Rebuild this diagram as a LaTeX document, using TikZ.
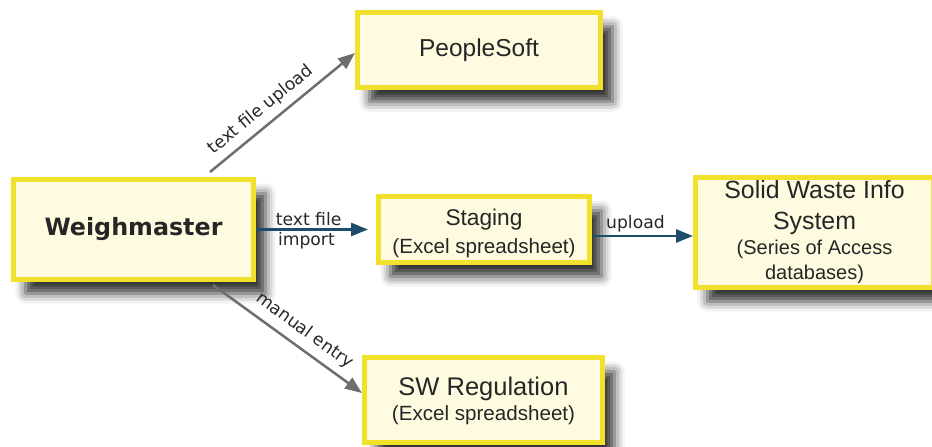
\documentclass[tikz,border=0pt]{standalone}
\usepackage{fontspec}
\setmainfont{Liberation Sans}
\newfontfamily\lblfont{DejaVu Sans}
\usetikzlibrary{arrows.meta,shadows.blur,calc}
\definecolor{boxfill}{HTML}{FFFBE0}
\definecolor{boxedge}{HTML}{F2E12C}
\definecolor{txt}{HTML}{262626}
\definecolor{flowblue}{HTML}{1E4D6B}
\definecolor{flowgray}{HTML}{6E6E6E}
\begin{document}
\begin{tikzpicture}[x=1pt,y=1pt,
  sysbox/.style={draw=boxedge, line width=5pt, fill=boxfill, text=txt,
    align=center, inner sep=0pt,
    blur shadow={shadow xshift=12pt, shadow yshift=-14pt,
      shadow blur radius=10pt, shadow opacity=80}},
  grayflow/.style={draw=flowgray, line width=2.5pt,
    -{Triangle[length=17pt,width=13pt]}},
  blueflow/.style={draw=flowblue, line width=2.7pt,
    -{Triangle[length=17pt,width=13pt]}},
  flowlabel/.style={font=\lblfont\fontsize{17.2}{20}\selectfont, text=txt, inner sep=2pt},
]
\useasboundingbox (0,0) rectangle (932,-447);

\node[sysbox, minimum width=240pt, minimum height=100pt,
  font=\lblfont\bfseries\fontsize{23.8}{28}\selectfont] (W) at (133.5,-229.5) {Weighmaster};

\node[sysbox, minimum width=243pt, minimum height=75.5pt,
  font=\fontsize{24.5}{30}\selectfont] (P) at (479,-50) {PeopleSoft};

\node[sysbox, minimum width=211pt, minimum height=66pt,
  font=\fontsize{20.6}{28}\selectfont] (S) at (484,-229.5)
  {\\[-3pt]{\fontsize{22.7}{28}\selectfont Staging}\\(Excel spreadsheet)};

\node[sysbox, minimum width=238pt, minimum height=110pt,
  font=\fontsize{24.9}{31}\selectfont] (I) at (814.5,-232.5)
  {Solid Waste Info\\System\\[-6pt]{\fontsize{20}{25}\selectfont (Series of Access}\\[-6pt]{\fontsize{20}{25}\selectfont databases)}};

\node[sysbox, minimum width=238pt, minimum height=85pt,
  font=\fontsize{20.6}{25}\selectfont] (R) at (483.5,-400)
  {\\[-4pt]{\fontsize{25.5}{25}\selectfont SW Regulation}\\(Excel spreadsheet)};

\draw[grayflow] ([shift={(76.5,5)}]W.north) -- ([yshift=-3pt]P.west)
  node[flowlabel, pos=0.42, sloped, above=4pt] (l1) {text file upload};

\draw[blueflow] (W.east) -- ([xshift=-8pt]S.west)
  node[flowlabel, pos=0.47, above=0pt] (l2) {text file}
  node[flowlabel, pos=0.45, below=0pt] (l3) {import};

\draw[blueflow] ([yshift=-6.5pt]S.east) -- ([yshift=-6.5pt]S.east -| I.west)
  node[flowlabel, pos=0.43, above=1pt] (l4) {upload};

\draw[grayflow] ([shift={(79.5,-3)}]W.south) -- ([yshift=7pt]R.west)
  node[flowlabel, pos=0.55, sloped, above=5pt] (l5) {manual entry};
\end{tikzpicture}
\end{document}
